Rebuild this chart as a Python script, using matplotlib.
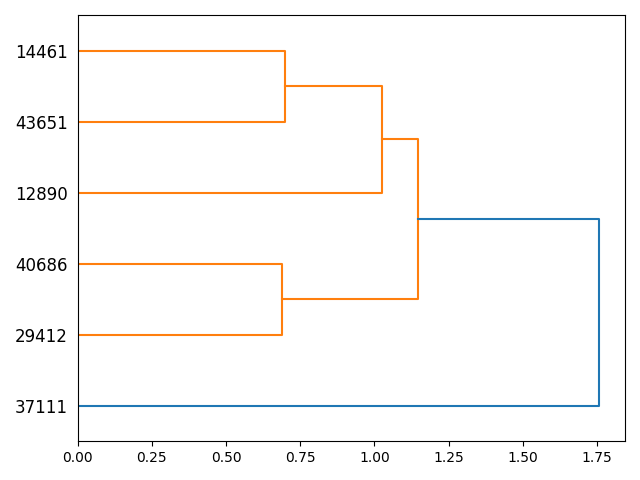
import matplotlib
matplotlib.use("Agg")
import matplotlib.pyplot as plt

# leaves in order from bottom to top
leaf_labels = ["37111", "29412", "40686", "12890", "43651", "14461"]
# merges: (left child, right child, distance); leaves 0..5, clusters 6..
merges = [
    (4, 5, 0.698),   # 43651 + 14461 -> 6
    (1, 2, 0.688),   # 29412 + 40686 -> 7
    (3, 6, 1.025),   # 12890 + 6 -> 8
    (7, 8, 1.146),   # 7 + 8 -> 9
    (0, 9, 1.757),   # 37111 + 9 -> 10
]
link_colors = ["C1", "C1", "C1", "C1", "C0"]

fig, ax = plt.subplots(figsize=(6.4, 4.8), dpi=100)

pos = {i: 5 + 10 * i for i in range(len(leaf_labels))}
height = {i: 0.0 for i in range(len(leaf_labels))}
n = len(leaf_labels)
for k, (a, b, d) in enumerate(merges):
    ya, yb = pos[a], pos[b]
    xa, xb = height[a], height[b]
    ax.plot([xa, d, d, xb], [ya, ya, yb, yb], color=link_colors[k], lw=1.5)
    pos[n + k] = (ya + yb) / 2
    height[n + k] = d

ax.set_ylim(0, 10 * n)
ax.set_xlim(0, max(m[2] for m in merges) * 1.05)
ax.set_yticks([5 + 10 * i for i in range(n)])
ax.set_yticklabels(leaf_labels, fontsize=12)
for line in ax.get_yticklines():
    line.set_visible(False)
fig.tight_layout()
fig.savefig("out.png", dpi=100)
